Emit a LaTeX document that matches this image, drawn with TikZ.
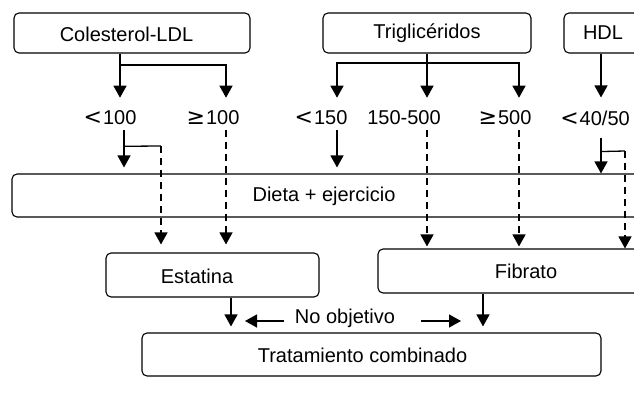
\documentclass[tikz,border=0pt]{standalone}
\usepackage{fontspec}
\setmainfont{Liberation Sans}
\newfontfamily\symf{DejaVu Sans}
\newcommand{\rel}[1]{{\symf\fontsize{22}{24}\selectfont #1}\hspace{1pt}}
\usetikzlibrary{arrows.meta}
\begin{document}
\begin{tikzpicture}[x=1pt,y=-1pt,
  txt/.style={font=\fontsize{20}{24}\selectfont},
  box/.style={draw, rounded corners=5pt, line width=1.1pt, inner sep=0pt, txt},
  lbl/.style={inner xsep=0pt, inner ysep=5pt, txt},
  ln/.style={line width=1.3pt},
  arr/.style={line width=1.3pt, -{Triangle[width=13pt,length=12pt]}},
  dsh/.style={arr, dash pattern=on 7pt off 5pt}]
\clip (0,0) rectangle (634,398);
\fill[white] (0,0) rectangle (634,398);

% boxes
\node[box, minimum width=236pt, minimum height=40pt] (ldl) at (132,33) {};
\node[txt] (ldlt) at (126.5,34) {Colesterol-LDL};
\node[box, minimum width=208pt, minimum height=40pt] (trig) at (427,33) {Triglicéridos};
\node[box, minimum width=78pt, minimum height=40pt] (hdl) at (603,33) {HDL};
\node[box, minimum width=628pt, minimum height=43pt] (dieta) at (326,195.5) {};
\node[txt] (dietat) at (324,196) {Dieta + ejercicio};
\node[box, minimum width=213pt, minimum height=44pt] (est) at (212.5,275) {};
\node[txt] (estt) at (197,276) {Estatina};
\node[box, minimum width=296pt, minimum height=44pt] (fib) at (526,271) {Fibrato};
\node[box, minimum width=459pt, minimum height=43pt] (trat) at (371.5,354.5) {};
\node[txt] (tratt) at (362.5,355) {Tratamiento combinado};

% labels
\node[lbl] (l100) at (110,118) {\rel{<}100};
\node[lbl] (g100) at (213,118) {\rel{≥}100};
\node[lbl] (l150) at (321,118) {\rel{<}150};
\node[lbl] (m150) at (404,118) {150-500};
\node[lbl] (g500) at (505,118) {\rel{≥}500};
\node[lbl] (l40) at (595,118) {\rel{<}40/50};
\node[txt, inner sep=0pt] (no) at (345,318) {No objetivo};

% branch points
\coordinate (bL) at (226,65);
\coordinate (bT1) at (337,63);
\coordinate (bT3) at (519,63);
\coordinate (b1) at (161,146);
\coordinate (b2) at (625,151);

% LDL
\draw[arr, shorten >=8pt] (ldl.south -| 120,0) -- (l100.north -| 120,0);
\draw[arr, shorten >=8pt] (ldl.south -| 120,0) |- (bL) -- (g100.north -| bL);
% Triglicéridos
\draw[arr, shorten >=8pt] (trig.south) -- (m150.north -| trig.south);
\draw[arr, shorten >=8pt] (trig.south) |- (bT1) -- (l150.north -| bT1);
\draw[arr, shorten >=8pt] (trig.south) |- (bT3) -- (g500.north -| bT3);
% HDL
\draw[arr, shorten >=8pt] (hdl.south -| 601,0) -- (l40.north -| 601,0);

% to Dieta
\draw[arr, shorten >=6pt] (l100.south -| 124,0) -- (dieta.north -| 124,0);
\draw[arr, shorten >=6pt] (l150.south -| bT1) -- (dieta.north -| bT1);
\draw[arr, shorten <=7pt] (l40.south -| 601,0) -- (dieta.north -| 601,0);

% dashed to drugs
\draw[ln] (l100.south -| 124,0) ++(0,16) -- (b1);
\draw[dsh, shorten >=8pt] (b1) -- (est.north -| b1);
\draw[dsh, shorten >=8pt] (g100.south -| bL) -- (est.north -| bL);
\draw[dsh, shorten >=2pt] (m150.south -| trig.south) -- (fib.north -| trig.south);
\draw[dsh, shorten >=2pt] (g500.south -| bT3) -- (fib.north -| bT3);
\draw[ln] (l40.south -| 601,0) ++(0,21) -- (b2);
\draw[dsh] (b2) -- (fib.north -| b2);

% to combined treatment
\draw[arr, shorten >=6pt] (est.south -| 231,0) -- (trat.north -| 231,0);
\draw[arr, shorten >=6pt] (fib.south -| 483,0) -- (trat.north -| 483,0);
\draw[arr, shorten <=11pt, shorten >=14pt] ([yshift=-3pt]no.west) -- ([yshift=-3pt]no.west -| 231,0);
\draw[arr, shorten <=26pt, shorten >=22pt] ([yshift=-3pt]no.east) -- ([yshift=-3pt]no.east -| 483,0);
\end{tikzpicture}
\end{document}
